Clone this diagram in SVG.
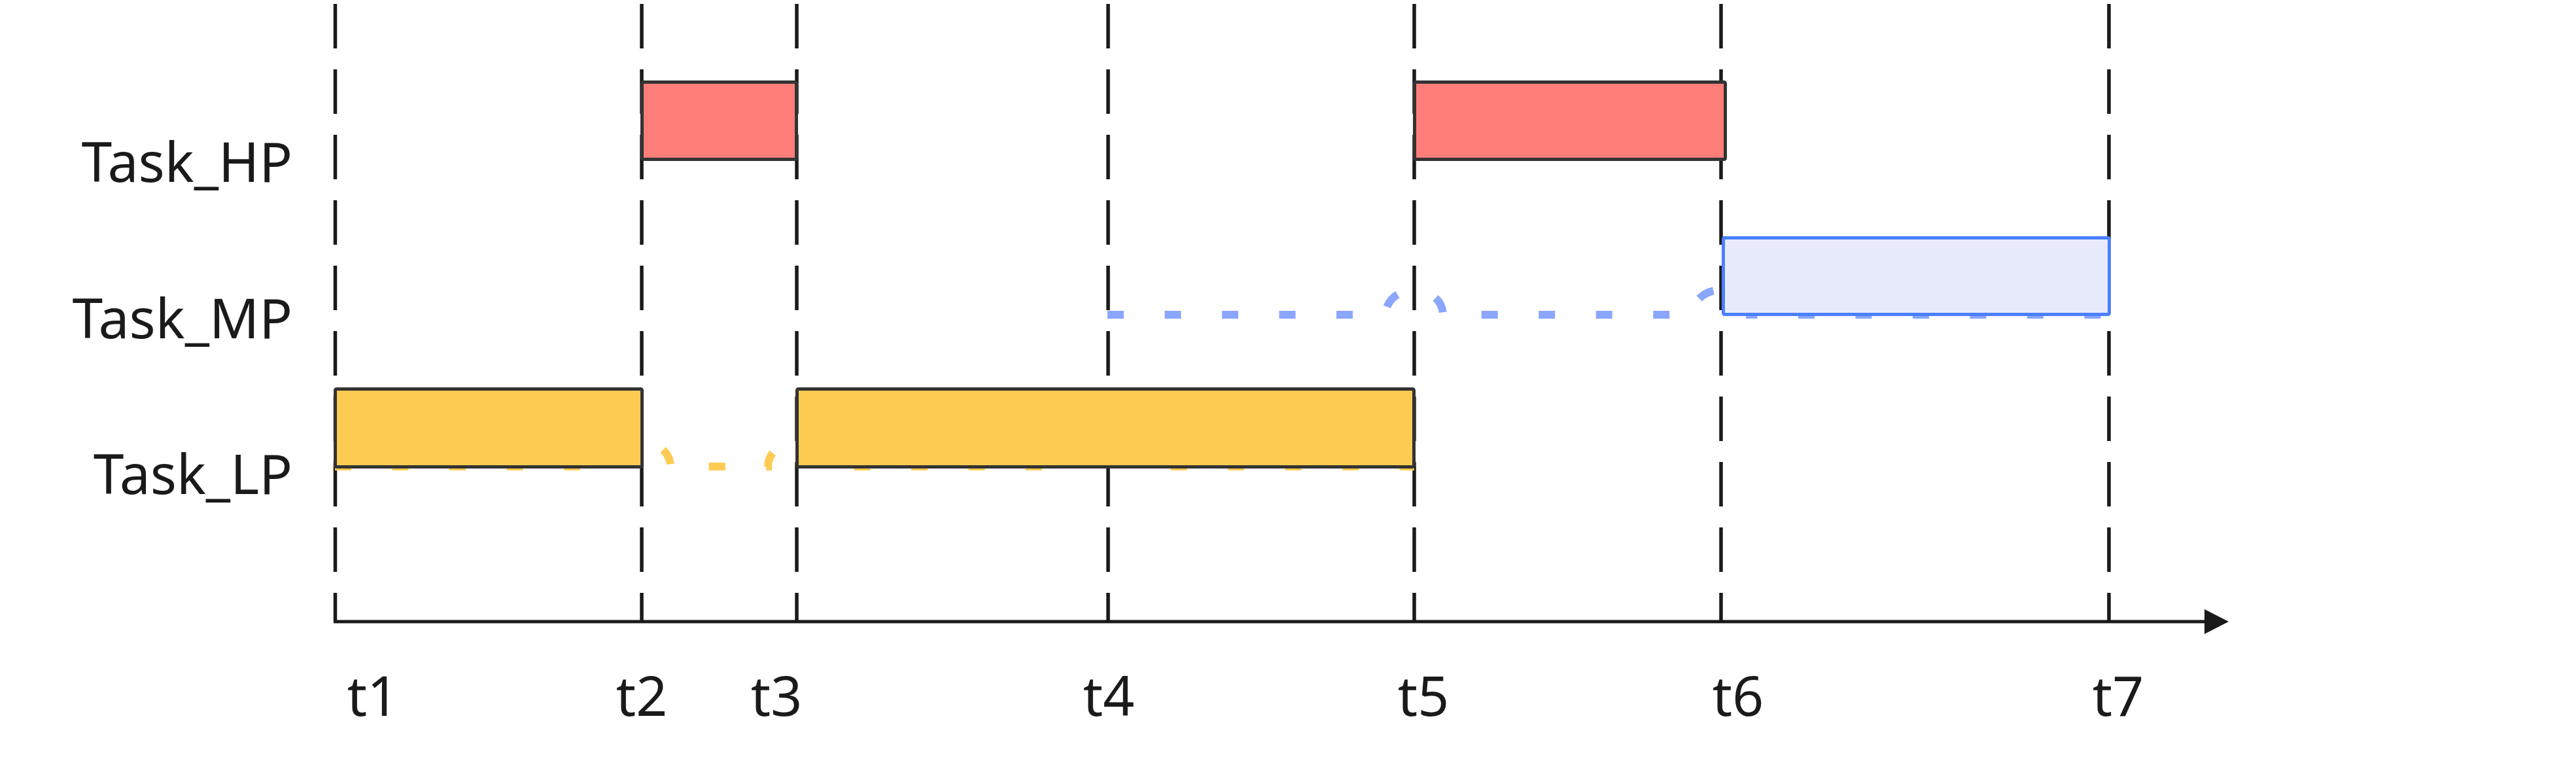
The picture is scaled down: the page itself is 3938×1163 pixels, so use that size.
<svg xmlns="http://www.w3.org/2000/svg" width="3938" height="1163" viewBox="0 0 3938 1163">
<style>
.grid{stroke:#1a1a1a;stroke-width:5.5;stroke-dasharray:68 32;fill:none}
.axis{stroke:#1a1a1a;stroke-width:5;fill:none}
.bar{stroke:#333333;stroke-width:5}
.hp{fill:#FF7E79}
.lp{fill:#FECB52}
.mp{fill:#E8EBFC;stroke:#4B80FE}
.conn{fill:none;stroke-width:12;stroke-dasharray:25 62.5}
.cmp{stroke:#8BA6FE}
.clp{stroke:#FECB52}
.lbl{font-family:"Noto Sans","Open Sans","DejaVu Sans",sans-serif;font-size:84px;fill:#1a1a1a}
</style>
<defs>
<marker id="arrow" markerUnits="userSpaceOnUse" markerWidth="40" markerHeight="40" refX="0" refY="19" orient="auto">
<path d="M0,0 L37,19 L0,38 Z" fill="#1a1a1a"/>
</marker>
</defs>
<rect width="3938" height="1163" fill="#ffffff"/>
<g id="grid">
<line class="grid" x1="512.5" y1="6" x2="512.5" y2="950"/>
<line class="grid" x1="981" y1="6" x2="981" y2="950"/>
<line class="grid" x1="1218" y1="6" x2="1218" y2="950"/>
<line class="grid" x1="1694" y1="6" x2="1694" y2="950"/>
<line class="grid" x1="2162" y1="6" x2="2162" y2="950"/>
<line class="grid" x1="2631" y1="6" x2="2631" y2="950"/>
<line class="grid" x1="3224" y1="6" x2="3224" y2="950"/>
</g>
<g id="axis">
<line class="axis" x1="510" y1="950" x2="3370" y2="950" marker-end="url(#arrow)"/>
</g>
<g id="connectors">
<path class="conn clp" d="M512,713 H937 A44,38 0 0 1 1025,713 H1174 A44,38 0 0 1 1262,713 H1650 A44,38 0 0 1 1738,713 H2162"/>
<path class="conn cmp" d="M1693,481 H2118 A44,38 0 0 1 2206,481 H2587 A44,38 0 0 1 2675,481 H3224"/>
</g>
<g id="node-hp1"><rect class="bar hp" x="981.5" y="125.5" width="236" height="118" rx="2"/></g>
<g id="node-hp2"><rect class="bar hp" x="2162.5" y="125.5" width="475" height="118" rx="2"/></g>
<g id="node-mp1"><rect class="bar mp" x="2634.5" y="363.5" width="590" height="117" rx="2"/></g>
<g id="node-lp1"><rect class="bar lp" x="512.5" y="594.5" width="469" height="119" rx="2"/></g>
<g id="node-lp2"><rect class="bar lp" x="1218.5" y="594.5" width="943" height="119" rx="2"/></g>
<g id="labels">
<text class="lbl" x="447" y="278" text-anchor="end">Task_HP</text>
<text class="lbl" x="447" y="517" text-anchor="end">Task_MP</text>
<text class="lbl" x="447" y="755" text-anchor="end">Task_LP</text>
<text class="lbl" x="570" y="1094" text-anchor="middle">t1</text>
<text class="lbl" x="981" y="1094" text-anchor="middle">t2</text>
<text class="lbl" x="1187" y="1094" text-anchor="middle">t3</text>
<text class="lbl" x="1695" y="1094" text-anchor="middle">t4</text>
<text class="lbl" x="2176" y="1094" text-anchor="middle">t5</text>
<text class="lbl" x="2657" y="1094" text-anchor="middle">t6</text>
<text class="lbl" x="3238" y="1094" text-anchor="middle">t7</text>
</g>
</svg>
